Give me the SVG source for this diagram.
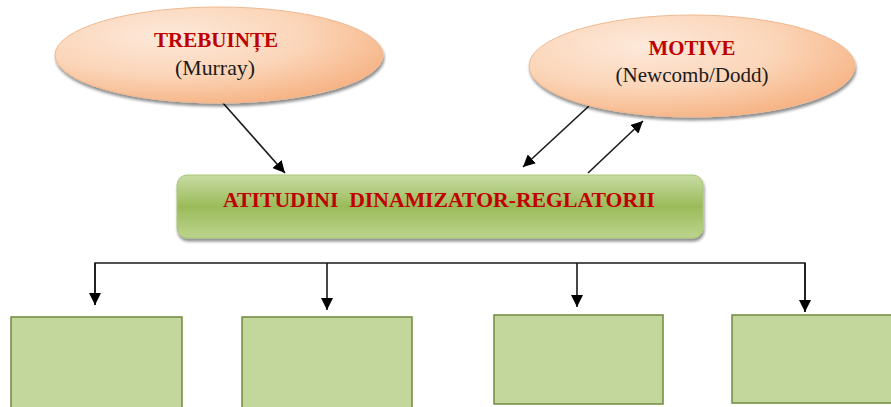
<svg xmlns="http://www.w3.org/2000/svg" width="891" height="407" viewBox="0 0 891 407">
<style>
.title{font-family:"Liberation Serif","Times New Roman",serif;font-weight:bold;fill:#c00000;font-size:21px;text-anchor:middle}
.sub{font-family:"Liberation Serif","Times New Roman",serif;fill:#1a1a1a;font-size:21px;text-anchor:middle}
.oval{fill:url(#peach);stroke:#f0b88f;stroke-width:1}
.box{fill:#c3d69b;stroke:#71893f;stroke-width:1.5}
.conn{fill:none;stroke:#1a1a1a;stroke-width:1.6}
</style>
<defs>
<radialGradient id="peach" cx="0.35" cy="0.3" r="0.75">
<stop offset="0" stop-color="#fde9db"/>
<stop offset="0.55" stop-color="#fbd5b8"/>
<stop offset="1" stop-color="#f6b384"/>
</radialGradient>
<linearGradient id="green" x1="0" y1="0" x2="0" y2="1">
<stop offset="0" stop-color="#c8dca4"/>
<stop offset="0.5" stop-color="#9bbb59"/>
<stop offset="1" stop-color="#bcd48e"/>
</linearGradient>
<filter id="sh" x="-10%" y="-10%" width="120%" height="130%">
<feGaussianBlur in="SourceAlpha" stdDeviation="1.5"/>
<feOffset dx="1" dy="3" result="b"/>
<feComponentTransfer><feFuncA type="linear" slope="0.45"/></feComponentTransfer>
<feMerge><feMergeNode/><feMergeNode in="SourceGraphic"/></feMerge>
</filter>
<marker id="ah" viewBox="0 0 10 10" refX="10" refY="5" markerWidth="7" markerHeight="7" markerUnits="userSpaceOnUse" orient="auto">
<path d="M0,0 L10,5 L0,10 z" fill="#000"/>
</marker>
<marker id="ahb" viewBox="0 0 10 10" refX="10" refY="5" markerWidth="12" markerHeight="12" markerUnits="userSpaceOnUse" orient="auto">
<path d="M0,0 L10,5 L0,10 z" fill="#000"/>
</marker>
</defs>
<rect width="891" height="407" fill="#fff"/>

<g id="connectors">
<line class="conn" x1="223" y1="103" x2="285" y2="173" marker-end="url(#ahb)"/>
<line class="conn" x1="589" y1="106" x2="523" y2="167" marker-end="url(#ahb)"/>
<line class="conn" x1="588" y1="173" x2="643" y2="121" marker-end="url(#ahb)"/>
<polyline class="conn" points="95,305 95,263 805,263 805,312" stroke-linejoin="miter"/>
<line class="conn" x1="95" y1="263" x2="95" y2="305" marker-end="url(#ahb)"/>
<line class="conn" x1="327" y1="263" x2="327" y2="310" marker-end="url(#ahb)"/>
<line class="conn" x1="577" y1="263" x2="577" y2="307" marker-end="url(#ahb)"/>
<line class="conn" x1="805" y1="263" x2="805" y2="312" marker-end="url(#ahb)"/>
</g>

<g id="trebuinte">
<ellipse class="oval" cx="219" cy="55" rx="164" ry="48" filter="url(#sh)"/>
<text class="title" x="216" y="47" textLength="124" lengthAdjust="spacingAndGlyphs">TREBUINȚE</text>
<text class="sub" x="215" y="75" textLength="80" lengthAdjust="spacingAndGlyphs">(Murray)</text>
</g>

<g id="motive">
<ellipse class="oval" cx="692" cy="66" rx="163" ry="51" filter="url(#sh)"/>
<text class="title" x="692" y="55" textLength="87" lengthAdjust="spacingAndGlyphs">MOTIVE</text>
<text class="sub" x="692" y="82" textLength="153" lengthAdjust="spacingAndGlyphs">(Newcomb/Dodd)</text>
</g>

<g id="atitudini">
<rect x="177" y="175" width="526" height="63" rx="10" ry="10" fill="url(#green)" stroke="#a9c57a" stroke-width="1" filter="url(#sh)"/>
<text class="title" x="439" y="207" textLength="432" lengthAdjust="spacingAndGlyphs" xml:space="preserve">ATITUDINI  DINAMIZATOR-REGLATORII</text>
</g>

<g id="box1"><rect class="box" x="11" y="317" width="171" height="100"/></g>
<g id="box2"><rect class="box" x="242" y="317" width="170" height="100"/></g>
<g id="box3"><rect class="box" x="494" y="315" width="169" height="89"/></g>
<g id="box4"><rect class="box" x="732" y="315" width="170" height="88"/></g>
</svg>
